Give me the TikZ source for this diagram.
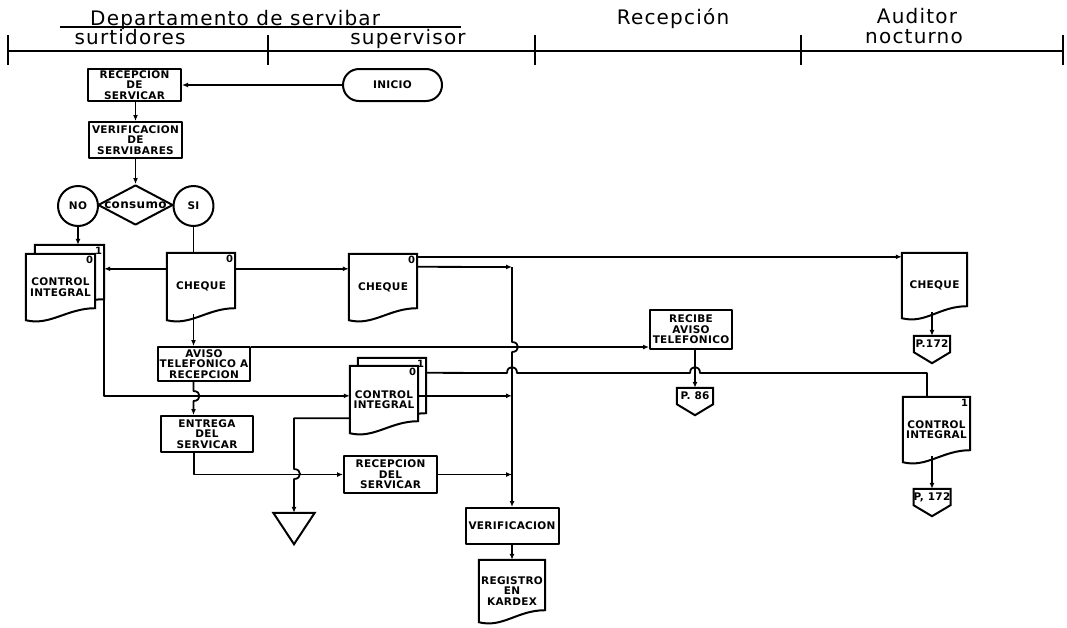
\documentclass[tikz,border=0pt]{standalone}
\usepackage{fontspec}
\setmainfont{DejaVu Sans}
\newfontfamily\lanefam[LetterSpace=6]{DejaVu Sans}
\newfontfamily\boxfam[LetterSpace=3]{DejaVu Sans}
\usetikzlibrary{calc, positioning}
\usetikzlibrary{arrows.meta}
\usetikzlibrary{shapes.geometric}
\pgfdeclarelayer{background}
\pgfsetlayers{background,main}

\newcommand{\boxfont}{\boxfam\fontsize{10.5}{10.5}\selectfont\bfseries}
% document outline with a wavy foot
\newcommand{\docshape}[1]{%
  \draw[docline] (#1.north west) -- (#1.north east) -- ([yshift=12pt]#1.south east)
    .. controls +(-28,0) and +(24,6) .. (#1.south west) -- cycle;}
% off-page connector
\newcommand{\offpage}[1]{%
  \draw[boxline] (#1.north west) -- (#1.north east) -- (#1.south east)
    -- ([yshift=-11pt]#1.south) -- (#1.south west) -- cycle;}

\begin{document}
\begin{tikzpicture}[x=1pt, y=-1pt, line join=round,
  boxline/.style={line width=2pt},
  docline/.style={line width=2pt, fill=white},
  procbox/.style={draw, line width=2pt, font=\boxfont, align=center, inner sep=1pt},
  docnode/.style={font=\boxfont, align=center, inner sep=0pt},
  decision/.style={diamond, draw, line width=2pt, minimum width=75pt, minimum height=40pt, inner sep=0pt},
  term/.style={circle, draw, line width=2pt, minimum size=40pt, font=\boxfont, inner sep=0pt},
  pagenode/.style={font=\boxfont, inner sep=0pt, minimum width=36pt, minimum height=16pt},
  tagnum/.style={font=\boxfam\fontsize{10}{10}\selectfont\bfseries, inner sep=2pt},
  flow/.style={line width=1.8pt, -{Latex[length=6pt,width=5pt]}},
  link/.style={line width=1.8pt},
  lane/.style={font=\lanefam\fontsize{20}{20}\selectfont, inner sep=0pt}]
\useasboundingbox (0,0) rectangle (1067,627);

% lanes
\node[lane, anchor=base west] (dept) at (90,25) {Departamento de servibar};
\draw[link] (60,27) -- (461,27);
\node[lane, anchor=base] (surt) at (130,44) {surtidores};
\node[lane, anchor=base] (superv) at (408,44) {supervisor};
\node[lane, anchor=base] (recep) at (673,24) {Recepción};
\node[lane, anchor=base] (audit) at (917,23) {Auditor};
\node[lane, anchor=base] (noct) at (914,43) {nocturno};
\draw[link] (8,51) -- (1063,51);
\foreach \x in {8,268,535,801,1063}
  \draw[link] (\x,35) -- (\x,65);

% steps
\node[procbox, minimum width=93pt, minimum height=32pt] (recserv) at (134.5,85) {RECEPCION\\DE\\SERVICAR};
\node[procbox, rounded corners=16pt, minimum width=99pt, minimum height=32pt] (inicio) at (392.5,85) {INICIO};
\node[procbox, minimum width=93pt, minimum height=36pt] (verserv) at (135.5,140) {VERIFICACION\\DE\\SERVIBARES};
\node[decision] (consumo) at (135.5,205) {};
\node[docnode, font=\boxfam\fontsize{12}{12}\selectfont\bfseries] (consumolbl) at (consumo) {consumo};
\node[term] (no) at (78,206) {NO};
\node[term] (si) at (193.5,206) {SI};

\node[docnode, minimum width=69pt, minimum height=66pt] (ctrlAb) at (69.5,278) {};
\node[docnode, minimum width=69pt, minimum height=66pt] (ctrlA) at (60.5,287) {CONTROL\\INTEGRAL};
\node[docnode, minimum width=68pt, minimum height=67pt] (chqA) at (201,286.5) {CHEQUE};
\node[docnode, minimum width=68pt, minimum height=66pt] (chqB) at (383,287) {CHEQUE};
\node[docnode, minimum width=68pt, minimum height=67pt] (ctrlBb) at (392,391.5) {};
\node[docnode, minimum width=68pt, minimum height=67pt] (ctrlB) at (384,399.5) {CONTROL\\INTEGRAL};
\node[docnode, minimum width=65pt, minimum height=65pt] (chqC) at (934.5,285.5) {CHEQUE};
\node[docnode, minimum width=67pt, minimum height=65pt] (ctrlC) at (936.5,429.5) {CONTROL\\INTEGRAL};
\node[docnode, minimum width=66pt, minimum height=62pt] (kardex) at (512,591) {REGISTRO\\EN\\KARDEX};

\node[tagnum, anchor=north east] (ctrlAbn) at (ctrlAb.north east) {1};
\node[tagnum, anchor=north east] (ctrlAn) at (ctrlA.north east) {0};
\node[tagnum, anchor=north east] (chqAn) at (chqA.north east) {0};
\node[tagnum, anchor=north east] (chqBn) at (chqB.north east) {0};
\node[tagnum, anchor=north east] (ctrlBbn) at (ctrlBb.north east) {1};
\node[tagnum, anchor=north east] (ctrlBn) at (ctrlB.north east) {0};
\node[tagnum, anchor=north east] (ctrlCn) at (ctrlC.north east) {1};

\node[procbox, minimum width=92pt, minimum height=34pt] (aviso) at (204,364) {AVISO\\TELEFONICO A\\RECEPCION};
\node[procbox, minimum width=92pt, minimum height=36pt] (entrega) at (207,434) {ENTREGA\\DEL\\SERVICAR};
\node[procbox, minimum width=93pt, minimum height=37pt] (recdel) at (390.5,474.5) {RECEPCION\\DEL\\SERVICAR};
\node[procbox, minimum width=93pt, minimum height=36pt] (verif) at (512,526) {VERIFICACION};
\node[procbox, minimum width=82pt, minimum height=39pt] (recibe) at (691,329.5) {RECIBE\\AVISO\\TELEFONICO};
\node[pagenode] (p86) at (695,396) {P. 86};
\node[pagenode] (pA172) at (932,344) {P.172};
\node[pagenode] (pB172) at (932,497) {P, 172};
\node[inner sep=0pt, minimum width=41pt, minimum height=31pt] (archivo) at (294,528.5) {};
\coordinate (busT) at (512,267);
\coordinate (ctrlCin) at ([xshift=-9.5pt]ctrlC.north);

\begin{pgfonlayer}{background}
  \docshape{ctrlAb}
  \docshape{ctrlA}
  \docshape{chqA}
  \docshape{chqB}
  \docshape{ctrlBb}
  \docshape{ctrlB}
  \docshape{chqC}
  \docshape{ctrlC}
  \docshape{kardex}
  \offpage{p86}
  \offpage{pA172}
  \offpage{pB172}
  \draw[boxline] (archivo.north west) -- (archivo.north east) -- (archivo.south) -- cycle;
\end{pgfonlayer}

% flow lines
\draw[flow] (inicio.west) -- (inicio.west -| recserv.east);
\draw[flow] (recserv.south -| consumo.north) -- (verserv.north -| consumo.north);
\draw[flow] (verserv.south -| consumo.north) -- (consumo.north);
\draw[flow] (no.south) -- (no.south |- ctrlAb.north);
\draw[link] (si.south) -- (si.south |- chqA.north);
\draw[flow] ([yshift=-16pt]chqA.north west) -- ([yshift=-16pt]chqA.north west -| ctrlAb.east);
\draw[flow] ([yshift=-16pt]chqA.north east) -- ([yshift=-16pt]chqA.north east -| chqB.west);
\draw[flow] ([yshift=-3pt]chqB.north east) -- ([yshift=-3pt]chqB.north east -| chqC.west);
\draw[flow] ([yshift=-13pt]chqB.north east) -- (busT);
\draw[flow] (busT) -- (512,342) .. controls (520,342) and (520,352) .. (512,352) -- (verif.north);
\draw[flow] ([yshift=6pt]chqA.south -| si.south) -- (si.south |- aviso.north);
\draw[flow] ([yshift=-1pt]aviso.north east) -- ([yshift=-1pt]aviso.north east -| recibe.west);
\draw[flow] (recibe.south -| p86.north) -- (p86.north);
\draw[link] ([yshift=-15pt]ctrlBb.north east) -- (507,373) .. controls (507,365) and (517,365) .. (517,373)
  -- (690,373) .. controls (690,365) and (700,365) .. (700,373) -- (927,373) -- (ctrlCin);
\draw[flow] ([yshift=-30pt]ctrlB.north east) -- ([yshift=-30pt]ctrlB.north east -| busT);
\draw[flow] ([yshift=12pt]ctrlAb.south east) -- ([yshift=-30pt]ctrlB.north west -| ctrlAb.east)
  -- ([yshift=-30pt]ctrlB.north west);
\draw[flow] (si.south |- aviso.south) -- (193.5,391) .. controls (201.5,391) and (201.5,401) .. (193.5,401)
  -- (si.south |- entrega.north);
\draw[flow] ([xshift=-13pt]entrega.south) -- ([xshift=-13pt]entrega.south |- recdel.west) -- (recdel.west);
\draw[flow] ([yshift=15pt]ctrlB.south west) -- ([yshift=15pt]ctrlB.south west -| archivo.north)
  -- (294,469) .. controls (302,469) and (302,479) .. (294,479) -- (archivo.north);
\draw[flow] (recdel.east) -- (recdel.east -| busT);
\draw[flow] (verif) -- (kardex);
\draw[flow] ([yshift=6pt]chqC.south -| pA172.north) -- (pA172.north);
\draw[flow] ([yshift=6pt]ctrlC.south -| pB172.north) -- (pB172.north);
\end{tikzpicture}
\end{document}
